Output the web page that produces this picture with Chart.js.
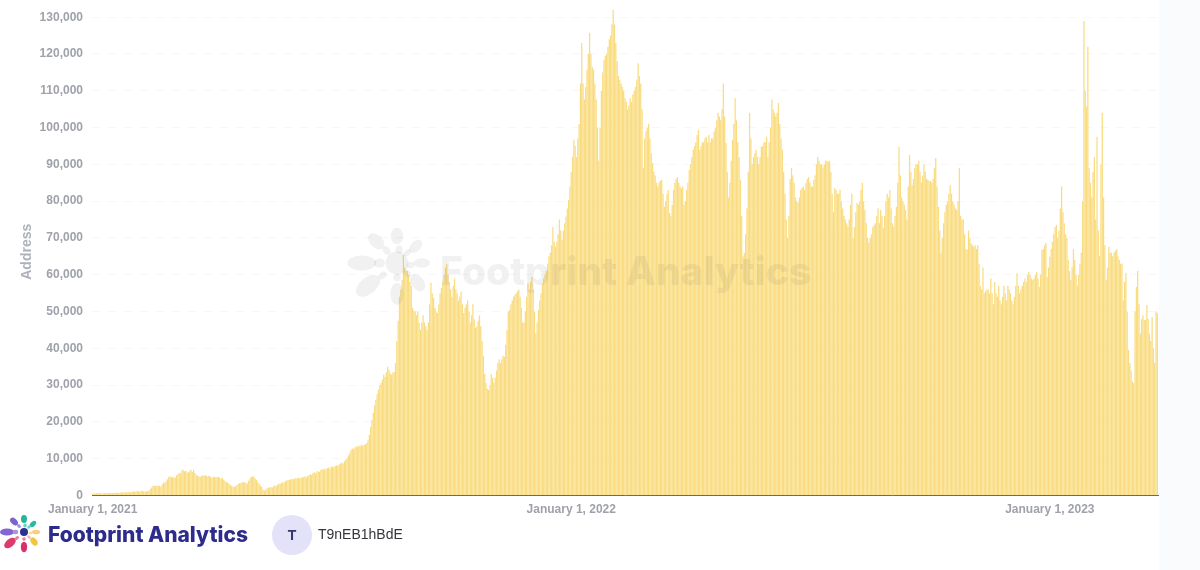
<!DOCTYPE html>
<html>
<head>
<meta charset="utf-8">
<title>Footprint Analytics - Address</title>
<script src="https://cdn.jsdelivr.net/npm/chart.js@4"></script>
<style>
html,body{margin:0;padding:0;background:#fff;width:1200px;height:570px;overflow:hidden;font-family:"Liberation Sans",Arial,sans-serif}
#strip{position:absolute;left:1159px;top:0;width:41px;height:570px;background:#fafbfc}
#wrap{position:absolute;left:0;top:0;width:1200px;height:570px}
#wm{position:absolute;left:440px;top:248px;font:800 39px Inter,sans-serif;color:rgba(50,50,50,.07);white-space:nowrap;line-height:46px}
#brand{position:absolute;left:48px;top:520px;font:800 21px Inter,sans-serif;color:#2d2c8c;white-space:nowrap;line-height:30px}
#avatar{position:absolute;left:272px;top:515px;width:40px;height:40px;border-radius:50%;background:#e3e2f8;color:#37366f;font:bold 14px/41px "Liberation Sans",sans-serif;text-align:center}
#user{position:absolute;left:318px;top:525px;font:14px/18px "Liberation Sans",sans-serif;color:#33343c}
svg{position:absolute;overflow:visible}
</style>
</head>
<body>
<div id="strip"></div>
<div id="wrap"><canvas id="c" width="1200" height="570"></canvas></div>
<svg id="wmlogo" style="left:0;top:0" width="1200" height="570">
  <g transform="translate(397 263) scale(2.07)" fill="rgba(50,50,50,.07)">
    <circle r="5.5"/><ellipse cx="-17" cy="0" rx="7" ry="3.6"/><ellipse cx="-8.5" cy="0" rx="2.7" ry="2.2"/>
    <ellipse cx="-10" cy="-10.5" rx="4.6" ry="3" transform="rotate(45 -10 -10.5)"/><ellipse cx="-5" cy="-6" rx="2.2" ry="1.6" transform="rotate(45 -5 -6)"/>
    <ellipse cx="0" cy="-13" rx="3" ry="4"/><ellipse cx="1" cy="-6.5" rx="1.8" ry="2"/>
    <ellipse cx="9" cy="-8" rx="3.8" ry="2.4" transform="rotate(-45 9 -8)"/><ellipse cx="5" cy="-5" rx="2" ry="1.4" transform="rotate(-45 5 -5)"/>
    <ellipse cx="12" cy="0" rx="4" ry="2.3"/><ellipse cx="6.5" cy="1" rx="2" ry="1.5"/>
    <ellipse cx="10" cy="9.5" rx="4.6" ry="3" transform="rotate(55 10 9.5)"/><ellipse cx="5" cy="5" rx="2" ry="1.5" transform="rotate(45 5 5)"/>
    <ellipse cx="0" cy="15" rx="3.2" ry="5.3"/><ellipse cx="0" cy="7" rx="1.8" ry="1.8"/>
    <ellipse cx="-14" cy="11" rx="6.8" ry="4" transform="rotate(-40 -14 11)"/><ellipse cx="-7" cy="6" rx="2.2" ry="1.6" transform="rotate(-40 -7 6)"/>
  </g>
</svg>
<div id="wm">Footprint Analytics</div>
<svg id="brandlogo" style="left:0;top:0" width="60" height="570">
  <g transform="translate(24 532)">
    <circle r="4" fill="#2a3190"/><ellipse cx="-17" cy="0" rx="7" ry="3.6" fill="#8465d8"/><ellipse cx="-8.5" cy="0" rx="2.7" ry="2.2" fill="#a793e4"/>
    <ellipse cx="-10" cy="-10.5" rx="4.6" ry="3" transform="rotate(45 -10 -10.5)" fill="#7e63cf"/><ellipse cx="-5" cy="-6" rx="2.2" ry="1.6" transform="rotate(45 -5 -6)" fill="#a793e4"/>
    <ellipse cx="0" cy="-13" rx="3" ry="4" fill="#24b59c"/><ellipse cx="1" cy="-6.5" rx="1.8" ry="2" fill="#6fd3c2"/>
    <ellipse cx="9" cy="-8" rx="3.8" ry="2.4" transform="rotate(-45 9 -8)" fill="#2bb8a0"/><ellipse cx="5" cy="-5" rx="2" ry="1.4" transform="rotate(-45 5 -5)" fill="#6fd3c2"/>
    <ellipse cx="12" cy="0" rx="4" ry="2.3" fill="#f3d27a"/><ellipse cx="6.5" cy="1" rx="2" ry="1.5" fill="#f6dd9b"/>
    <ellipse cx="10" cy="9.5" rx="4.6" ry="3" transform="rotate(55 10 9.5)" fill="#f0c840"/><ellipse cx="5" cy="5" rx="2" ry="1.5" transform="rotate(45 5 5)" fill="#f4b8b8"/>
    <ellipse cx="0" cy="15" rx="3.2" ry="5.3" fill="#d92f6b"/><ellipse cx="0" cy="7" rx="1.8" ry="1.8" fill="#eb7ea5"/>
    <ellipse cx="-14" cy="11" rx="6.8" ry="4" transform="rotate(-40 -14 11)" fill="#dd3a6e"/><ellipse cx="-7" cy="6" rx="2.2" ry="1.6" transform="rotate(-40 -7 6)" fill="#eb7ea5"/>
  </g>
</svg>
<div id="brand">Footprint Analytics</div>
<div id="avatar">T</div>
<div id="user">T9nEB1hBdE</div>
<script>
const firstDay = "2021-01-01";
const xTickIndexes = [0, 365, 730];
const yTickValues = [0,10000,20000,30000,40000,50000,60000,70000,80000,90000,100000,110000,120000,130000];
const yAxisTitle = "Address";
// daily address counts, thousands
const addressThousands = [
0.5,0.6,0.5,0.6,0.7,0.6,0.6,0.5,0.6,0.7,0.6,0.6,0.7,0.6,0.7,0.7,0.6,0.7,0.8,0.7,0.7,0.8,0.8,0.9,0.8,0.8,0.9,1.0,0.9,0.9,1.0,1.1,1.0,1.1,1.2,1.1,1.1,1.2,1.3,1.1,
1.1,1.1,1.2,1.3,1.8,2.2,2.6,2.7,2.5,2.6,2.7,2.6,2.4,3.0,3.6,3.4,3.9,4.4,5.0,5.2,4.9,5.1,4.8,4.9,5.5,5.8,6.2,6.0,6.8,7.0,6.6,6.7,6.2,6.3,6.6,7.0,6.4,7.0,6.1,5.6,
5.4,5.2,5.0,5.3,5.5,5.4,5.6,5.2,5.3,5.4,5.0,4.8,5.0,5.1,4.9,5.0,5.0,4.8,4.5,4.8,4.3,3.9,3.6,3.5,3.1,2.9,2.6,2.4,2.3,2.6,2.8,3.1,3.4,3.3,3.6,3.7,3.5,3.4,3.2,4.0,
4.6,5.0,5.3,5.0,4.6,4.2,3.6,3.2,2.7,2.3,1.5,1.3,1.6,1.9,2.2,2.1,2.3,2.2,2.5,2.7,2.5,2.9,3.2,3.1,3.4,3.6,3.5,3.9,4.1,4.3,4.2,4.4,4.5,4.4,4.6,4.7,4.6,4.8,4.7,4.8,
4.9,5.0,5.2,4.9,5.4,5.5,5.8,5.6,6.1,6.3,6.0,6.5,6.6,6.4,6.9,7.2,7.0,7.3,7.1,7.5,7.6,7.3,7.8,7.9,7.7,8.1,8.2,8.0,8.4,8.7,8.9,8.6,9.3,9.7,10.1,10.9,11.5,12.4,12.8,12.6,
13.0,13.4,13.2,13.6,13.3,13.8,13.5,13.7,13.9,14.2,15.0,16.5,18.6,20.5,22.5,24.5,26.0,27.5,28.8,30.0,30.6,31.5,32.8,32.2,33.5,35.0,34.2,33.2,32.8,33.4,33.6,36.0,42.0,47.5,54.0,56.0,58.6,65.4,62.0,61.0,
61.0,60.0,58.0,57.0,51.0,50.2,50.0,49.0,50.0,47.0,45.0,47.0,49.0,47.0,46.0,45.0,47.0,52.0,57.8,55.0,53.7,51.0,50.0,49.6,52.0,55.0,56.4,58.0,60.0,62.0,63.0,60.0,58.0,56.0,54.0,57.0,59.0,56.0,55.0,53.0,
54.0,55.4,52.0,49.6,51.0,52.0,53.0,50.0,47.0,49.0,52.0,48.0,45.5,46.0,47.5,49.0,46.0,42.0,38.0,33.0,30.6,29.0,28.7,30.0,33.0,32.0,30.6,32.0,34.0,36.0,37.0,36.0,37.0,38.0,37.7,41.0,45.0,50.0,50.4,52.0,
53.0,54.0,54.5,55.0,55.5,56.0,54.0,51.0,47.0,47.0,50.0,54.0,57.7,56.0,58.0,59.4,56.0,50.0,44.0,47.0,50.4,53.0,55.0,57.7,59.0,60.0,61.0,63.0,65.0,66.0,68.0,73.0,69.0,67.6,69.0,71.0,75.0,72.0,69.5,72.0,
74,75.8,78,80.4,84,88,92,96.7,95,92,97,101,112,123,112,107.6,111,115.8,120,125.8,120,116.5,115.8,112,107.6,100,91,100,110,115,118.4,119.5,120,122,124,125,128,132,128,123,
118,114,113,112,111,110,108,107,105,106,108,107,109,110,111,113,117.5,114,112,105,89,97,99,100,101,97,93,90.4,88,87,85,84,85,85.5,85.8,82,78.5,80,82,83,
76.8,76,79,83,85,86,86.6,85,84,83.5,84,79,80,83,85,88.5,90,92,94,95,96,98,99.4,94,95,96,96,97,97.5,96,98,96,97,97,98.9,100,102,104,103,102,
105,112,103,95.8,88,81,85,91,96.7,101,108,102,96,92,85.8,76,65,66,71,78,88,104,97,90,92,93,94,92,90,92,94.8,95,96,96,97.5,92,96,100,107.6,105,
104,103,104,106.7,101,97,94,88,82,75,70,76,86,89,87,85,81,80,79.5,81,83,83.6,84,83,85,86,86.6,85,84,84,85.8,87,90,92,91,90,90,89,90,91,
91,90.7,91,88,82,77,83.6,83,82,82,83,80,78,76,75,74,73,75,79,82,70,73,77,79.5,79,80,83,85,80,77.6,74,70,68.6,70,71,73,73.5,74,76,78,
74,77.6,76,72.7,76,80,82,81,83,78,74,73,76,78.5,85,94.8,87,81,80,79,77.6,75,84,92.6,88,84.4,86,89,90,90,91,88,85,87,90,88,86,85.8,85.5,85.5,
85,86,89,91.7,84,78.5,72,66,70,74,77,79,80,82,84.4,82,80,79,78,77.6,80,89,76,75,75,71,67,66.8,72,70,68.5,68,67.6,68,67,68,63,57,56,62,
55,55.5,56,56,55,59,55,52,58,55,54,57,53,52,54,57,55,53,57,56,55,53,52,54,57,60.5,57,55,56,57,58,59,58,60,60.8,60,59,58.6,59,60,
60.8,59,56.7,60,66.8,67,68,68.6,59.4,62,64.9,67,69,71,73,73.5,70,72,78,84,77,74,71,70,64,61,58.6,62,67,64,60,57,60,63,66,80,129,110,105.7,122,
89,85,81,88,92,75,97.5,72,65,90,104,81,68,58.6,62,67.6,66,66,65,66,66.5,67,65,64,63,63,53,58,60.5,50,39.6,36,34,31,30.5,50,56.7,61,52,44,
48,49,47.7,47.7,51.8,48,44,42,48.5,40,36,50,49.6
];
const addressValues = addressThousands.map(v => v * 1000);
const dayLabels = addressThousands.map((_, i) => {
  const d = new Date(Date.parse(firstDay + "T00:00:00Z") + i * 86400000);
  return d.toLocaleDateString("en-US", {year:"numeric", month:"long", day:"numeric", timeZone:"UTC"});
});
new Chart(document.getElementById("c"), {
  type: "bar",
  data: { labels: dayLabels, datasets: [{ label: yAxisTitle, data: addressValues,
    backgroundColor: "#fadc80", borderWidth: 0, barPercentage: 0.96, categoryPercentage: 1 }] },
  options: {
    responsive: false, animation: false, devicePixelRatio: 1,
    layout: { padding: { top: 8, right: 42, left: 0, bottom: 0 } },
    plugins: { legend: { display: false }, tooltip: { enabled: false } },
    scales: {
      x: {
        grid: { display: false, drawTicks: false },
        border: { display: true, color: "#6b6b5e", width: 1 },
        ticks: { autoSkip: false, maxRotation: 0, minRotation: 0, padding: 7, color: "#9fa2ab",
          font: { family: "'Liberation Sans'", size: 12, weight: "bold" } },
        afterBuildTicks(s) { s.ticks = xTickIndexes.map(v => ({ value: v })); },
        afterFit(s) { s.height = 74.5; s.paddingLeft = 0; s.paddingRight = 0; }
      },
      y: {
        min: 0, max: 132500,
        grid: { color: "rgba(0,0,0,0.03)", drawTicks: false },
        border: { display: false, dash: [8, 8] },
        title: { display: true, text: yAxisTitle, color: "#aeb1bb", padding: { top: 19, bottom: 0 },
          font: { family: "'Liberation Sans'", size: 14, weight: "bold" } },
        ticks: { padding: 9, color: "#9fa2ab", autoSkip: false,
          font: { family: "'Liberation Sans'", size: 12, weight: "bold" },
          callback: v => v.toLocaleString("en-US") },
        afterBuildTicks(s) { s.ticks = yTickValues.map(v => ({ value: v })); },
        afterFit(s) { s.width = 92; s.paddingTop = 0; s.paddingBottom = 0; }
      }
    }
  }
});
</script>
</body>
</html>
